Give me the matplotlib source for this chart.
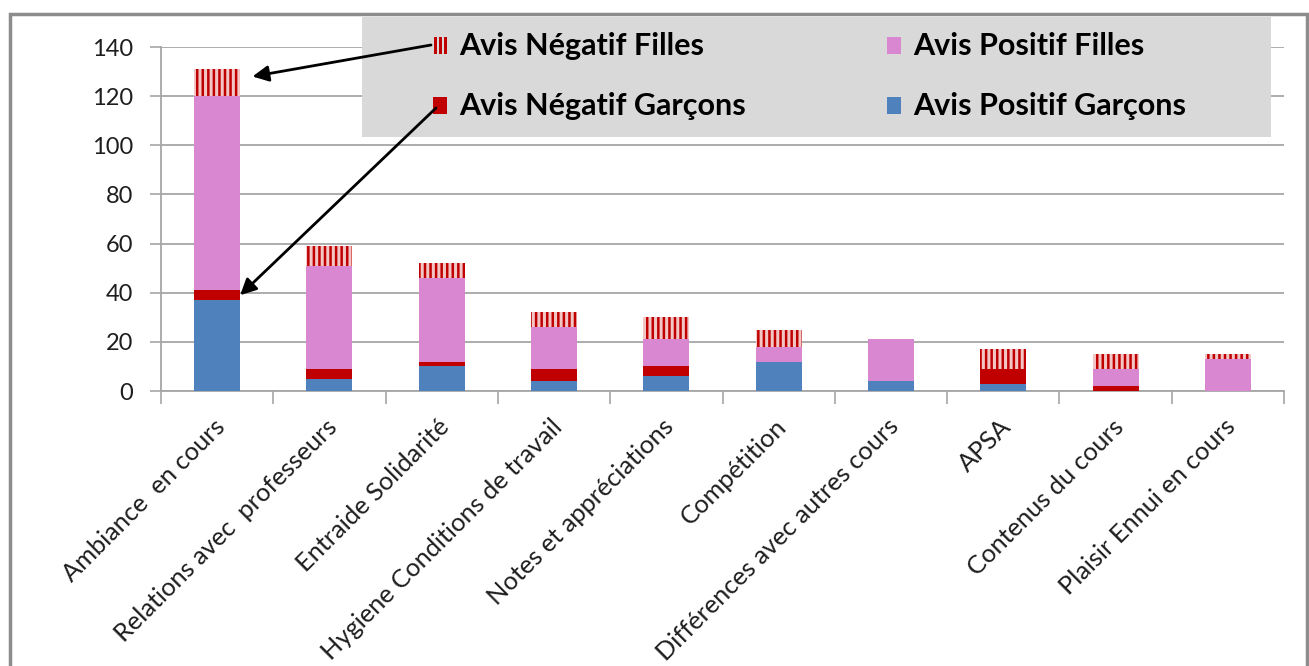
import matplotlib

matplotlib.use("Agg")
import matplotlib.pyplot as plt
import numpy as np
from matplotlib.patches import Rectangle
from matplotlib.text import Annotation
from matplotlib.transforms import ScaledTranslation

# effectifs par thème (empilés : garçons en bas, filles au-dessus)
themes = ["Ambiance  en cours", "Relations avec  professeurs", "Entraide Solidarité",
          "Hygiene Conditions de travail", "Notes et appréciations", "Compétition",
          "Différences avec autres cours", "APSA", "Contenus du cours", "Plaisir Ennui en cours"]
pos_garcons = [37, 5, 10, 4, 6, 12, 4, 3, 0, 0]
neg_garcons = [4, 4, 2, 5, 4, 0, 0, 6, 2, 0]
pos_filles = [79, 42, 34, 17, 11, 6, 17, 0, 7, 13]
neg_filles = [11, 8, 6, 6, 9, 7, 0, 8, 6, 2]

C_BLUE = "#4f81bd"
C_PINK = "#d987d1"
C_RED = "#c00000"
C_PALE = "#f3c6c6"
C_GRID = "#a6a6a6"
C_FRAME = "#8c8c8c"
C_LEG = "#d9d9d9"
INK = "#1e1e1e"

W, H = 1309, 666
plt.rcParams["font.family"] = ["Lato", "DejaVu Sans"]
plt.rcParams["hatch.linewidth"] = 1.8

fig = plt.figure(figsize=(W / 100, H / 100), dpi=100)
ax = fig.add_axes([161 / W, (H - 391) / H, (1284 - 161) / W, (391 - 47) / H])

x = np.arange(len(themes))
bw = 0.41
pg = np.array(pos_garcons)
ng = np.array(neg_garcons)
pf = np.array(pos_filles)
nf = np.array(neg_filles)

ax.bar(x, pg, bw, color=C_BLUE, zorder=3)
ax.bar(x, ng, bw, bottom=pg, color=C_RED, zorder=3)
ax.bar(x, pf, bw, bottom=pg + ng, color=C_PINK, zorder=3)
ax.bar(x, nf, bw, bottom=pg + ng + pf, color=C_PALE, edgecolor=C_RED,
       hatch="|||", linewidth=0, zorder=3)

ax.set_xlim(-0.5, len(themes) - 0.5)
ax.set_ylim(0, 140)
ax.set_yticks(range(0, 141, 20))
ax.yaxis.grid(True, color=C_GRID, lw=1.3, zorder=0)
ax.tick_params(axis="y", length=8, width=1.2, color=C_GRID, labelsize=17,
               labelcolor=INK, pad=12)

ax.set_xticks(x)
ax.set_xticklabels(themes, rotation=45, ha="right", va="center",
                   rotation_mode="anchor", fontsize=18.3, color=INK)
ax.set_xticks(np.arange(-0.5, len(themes)), minor=True)
ax.tick_params(axis="x", which="major", length=0, pad=23)
ax.tick_params(axis="x", which="minor", length=9, width=1.2, color=C_GRID)
shift = ScaledTranslation(4 / 100, 0, fig.dpi_scale_trans)
for lab in ax.get_xticklabels():
    lab.set_transform(lab.get_transform() + shift)

for side in ("top", "right"):
    ax.spines[side].set_visible(False)
for side in ("left", "bottom"):
    ax.spines[side].set_color(C_GRID)
    ax.spines[side].set_linewidth(1.3)

# cadre gris autour du graphique
fig.patches.append(Rectangle((10 / W, -0.05), (1307 - 10) / W, 1.05 - 14 / H,
                             transform=fig.transFigure, fill=False,
                             edgecolor=C_FRAME, lw=2.5, zorder=0))

# légende dessinée à la main : fond gris, 2 x 2 entrées
fig.patches.append(Rectangle((362 / W, (H - 137) / H), (1271 - 362) / W, 120 / H,
                             transform=fig.transFigure, facecolor=C_LEG,
                             edgecolor="none", zorder=5))
entries = [
    ("Avis Négatif Filles", 433, 46, "stripes"),
    ("Avis Positif Filles", 887, 46, C_PINK),
    ("Avis Négatif Garçons", 433, 106, C_RED),
    ("Avis Positif Garçons", 887, 106, C_BLUE),
]
for label, px, py, style in entries:
    if style == "stripes":
        for k in range(3):
            fig.patches.append(Rectangle(((px + 1 + 5 * k) / W, (H - py - 8) / H), 2.5 / W, 17 / H,
                                         transform=fig.transFigure, facecolor=C_RED,
                                         edgecolor="none", zorder=6))
    else:
        fig.patches.append(Rectangle((px / W, (H - py - 8) / H), 14 / W, 17 / H,
                                     transform=fig.transFigure, facecolor=style,
                                     edgecolor="none", zorder=6))
    fig.text((px + 26) / W, (H - py) / H, label, fontsize=22, weight="bold",
             color="black", ha="left", va="center", zorder=7)

# flèches reliant la légende aux segments de la première barre (au-dessus du fond gris)
tot0 = pg[0] + ng[0] + pf[0] + nf[0]
arrow = dict(arrowstyle="-|>", color="black", lw=2, mutation_scale=24,
             shrinkA=0, shrinkB=0)
targets = [((bw / 2 + 0.11, tot0 - 3), (431, H - 45)),
           ((bw / 2, pg[0] + ng[0] / 2), (436, H - 108))]
for tip, tail in targets:
    ann = Annotation("", xy=tip, xycoords=ax.transData, xytext=tail,
                     textcoords="figure pixels", arrowprops=arrow,
                     annotation_clip=False)
    ann.set_zorder(8)
    fig.add_artist(ann)

fig.savefig("out.png", dpi=100, facecolor="white")
